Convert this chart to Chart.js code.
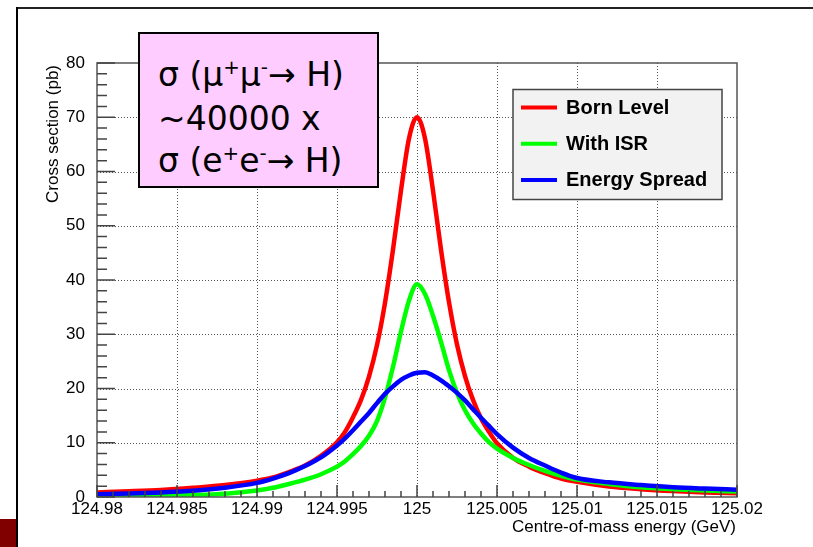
<!DOCTYPE html>
<html lang="en">

<head>
    <meta charset="UTF-8">
    <title>Higgs lineshape at a muon collider</title>
    <script src="https://cdn.jsdelivr.net/npm/chart.js"></script>
    <style>
        html, body { margin: 0; padding: 0; background: #fff; overflow: hidden; }
        .page { position: relative; width: 813px; height: 547px; }
        .chart_box { position: absolute; left: 0; top: 0; width: 813px; height: 547px; }
        .slide_top { position: absolute; left: 16px; top: 7px; width: 797px; height: 2px; background: #222; }
        .slide_left { position: absolute; left: 16px; top: 7px; width: 2px; height: 540px; background: #000; }
        .slide_mark { position: absolute; left: 0; top: 519px; width: 16px; height: 28px; background: #800000; }
        .note {
            position: absolute; left: 138px; top: 32px; width: 237px; height: 152px;
            border: 2px solid #000; background: #ffccff;
            font-family: 'DejaVu Sans', sans-serif; font-size: 33px; color: #000;
        }
        .note p { position: absolute; left: 18px; margin: 0; line-height: 1; white-space: nowrap; }
        .note sup { font-size: 60%; line-height: 0; }
    </style>
</head>

<body>
    <div class="page">
        <div class="slide_top"></div>
        <div class="slide_left"></div>
        <div class="slide_mark"></div>
        <div class="chart_box">
            <canvas id="lineshapeChart"></canvas>
        </div>
        <div class="note">
            <p style="top: 24px;">σ (μ<sup>+</sup>μ<sup>-</sup>→ H)</p>
            <p style="top: 68px;">~40000 x</p>
            <p style="top: 110px;">σ (e<sup>+</sup>e<sup>-</sup>→ H)</p>
        </div>
    </div>

    <script>
        // centre-of-mass energy (GeV)
        const energy = [124.980, 124.982, 124.984, 124.986, 124.988, 124.990, 124.991, 124.992, 124.993, 124.994,
            124.995, 124.9955, 124.996, 124.9965, 124.997, 124.9975, 124.998, 124.9985, 124.999, 124.9995, 125.000,
            125.0005, 125.001, 125.0015, 125.002, 125.0025, 125.003, 125.0035, 125.004, 125.0045, 125.005, 125.006,
            125.007, 125.008, 125.009, 125.010, 125.012, 125.014, 125.016, 125.018, 125.020];

        // cross section (pb)
        const bornLevel = [0.85, 1.05, 1.3, 1.7, 2.2, 3.0, 3.6, 4.6, 5.8, 7.6,
            10.1, 12.0, 14.7, 17.9, 22.2, 28.0, 35.8, 45.6, 56.5, 66.1, 70.0,
            66.1, 56.5, 45.6, 35.9, 28.1, 22.3, 17.9, 14.5, 12.0, 9.9, 7.2,
            5.6, 4.4, 3.4, 2.8, 1.95, 1.45, 1.1, 0.85, 0.7];
        const withISR = [0.15, 0.2, 0.25, 0.35, 0.6, 1.2, 1.7, 2.4, 3.2, 4.2,
            5.6, 6.6, 7.9, 9.4, 11.3, 14.0, 18.3, 24.0, 30.5, 36.2, 39.2,
            37.4, 33.4, 28.6, 23.4, 19.2, 16.0, 13.6, 11.7, 10.1, 8.9, 7.2,
            5.9, 4.8, 3.9, 3.2, 2.4, 1.8, 1.45, 1.2, 1.0];
        const energySpread = [0.5, 0.65, 0.85, 1.15, 1.7, 2.6, 3.4, 4.4, 5.7, 7.3,
            9.5, 10.8, 12.3, 13.9, 15.5, 17.3, 19.0, 20.4, 21.6, 22.4, 22.9,
            23.0, 22.4, 21.5, 20.4, 19.2, 17.8, 16.2, 14.6, 13.1, 11.6, 9.1,
            7.2, 5.8, 4.5, 3.5, 2.7, 2.2, 1.8, 1.55, 1.35];

        const seriesNames = ['Born Level', 'With ISR', 'Energy Spread'];
        const seriesColors = ['#ff0000', '#00ff00', '#0000ff'];

        const xTickValues = [124.98, 124.985, 124.99, 124.995, 125, 125.005, 125.01, 125.015, 125.02];
        const xTickLabels = ['124.98', '124.985', '124.99', '124.995', '125', '125.005', '125.01', '125.015', '125.02'];
        const yTickValues = [0, 10, 20, 30, 40, 50, 60, 70, 80];
        const yTickLabels = ['0', '10', '20', '30', '40', '50', '60', '70', '80'];

        const xTitle = 'Centre-of-mass energy (GeV)';
        const yTitle = 'Cross section (pb)';

        const toPoints = ys => energy.map((e, i) => ({ x: e, y: ys[i] }));
        const axisFont = '17px "Liberation Sans", Arial, sans-serif';

        // ROOT style frame: dotted grid, inward ticks, titles at the axis ends
        const rootFrame = {
            id: 'rootFrame',
            beforeDatasetsDraw(chart) {
                const { ctx, chartArea: a, scales: { x, y } } = chart;
                ctx.save();
                ctx.strokeStyle = '#555';
                ctx.lineWidth = 1;
                ctx.setLineDash([1, 2]);
                ctx.beginPath();
                xTickValues.slice(1, -1).forEach(v => {
                    const px = Math.round(x.getPixelForValue(v)) + 0.5;
                    ctx.moveTo(px, a.top);
                    ctx.lineTo(px, a.bottom);
                });
                yTickValues.slice(1, -1).forEach(v => {
                    const py = Math.round(y.getPixelForValue(v)) + 0.5;
                    ctx.moveTo(a.left, py);
                    ctx.lineTo(a.right, py);
                });
                ctx.stroke();
                ctx.restore();
            },
            afterDatasetsDraw(chart) {
                const { ctx, chartArea: a, scales: { x, y } } = chart;
                ctx.save();
                ctx.strokeStyle = '#555';
                ctx.lineWidth = 1.5;
                ctx.strokeRect(a.left, a.top, a.right - a.left, a.bottom - a.top);

                ctx.strokeStyle = '#444';
                ctx.beginPath();
                for (let i = 0; i <= 40; i++) {
                    const px = x.getPixelForValue(124.98 + i * 0.001);
                    const len = i % 5 === 0 ? 12 : 6;
                    ctx.moveTo(px, a.bottom);
                    ctx.lineTo(px, a.bottom - len);
                }
                for (let i = 0; i <= 40; i++) {
                    const py = y.getPixelForValue(i * 2);
                    const len = i % 5 === 0 ? 18 : 10;
                    ctx.moveTo(a.left, py);
                    ctx.lineTo(a.left + len, py);
                }
                ctx.stroke();

                ctx.fillStyle = '#000';
                ctx.font = axisFont;
                ctx.textAlign = 'right';
                ctx.textBaseline = 'alphabetic';
                ctx.fillText(xTitle, a.right - 1, 532);

                ctx.translate(58, a.top + 2);
                ctx.rotate(-Math.PI / 2);
                ctx.textAlign = 'right';
                ctx.fillText(yTitle, 0, 0);
                ctx.restore();
            },
            afterDraw(chart) {
                const { ctx } = chart;
                const bx = 513, by = 89.5, bw = 209, bh = 110;
                ctx.save();
                ctx.fillStyle = '#f2f2f2';
                ctx.fillRect(bx, by, bw, bh);
                ctx.strokeStyle = '#444';
                ctx.lineWidth = 1.5;
                ctx.strokeRect(bx, by, bw, bh);
                ctx.font = 'bold 20px "Liberation Sans", Arial, sans-serif';
                ctx.textAlign = 'left';
                ctx.textBaseline = 'middle';
                chart.data.datasets.forEach((ds, i) => {
                    const ry = by + 18 + i * 36.2;
                    ctx.strokeStyle = ds.borderColor;
                    ctx.lineWidth = 4;
                    ctx.beginPath();
                    ctx.moveTo(bx + 8, ry);
                    ctx.lineTo(bx + 44, ry);
                    ctx.stroke();
                    ctx.fillStyle = '#000';
                    ctx.fillText(ds.label, bx + 53, ry + 1);
                });
                ctx.restore();
            }
        };

        const ctx = document.getElementById('lineshapeChart').getContext('2d');

        new Chart(ctx, {
            type: 'line',
            data: {
                datasets: [bornLevel, withISR, energySpread].map((ys, i) => ({
                    label: seriesNames[i],
                    data: toPoints(ys),
                    borderColor: seriesColors[i],
                    backgroundColor: seriesColors[i],
                    borderWidth: 4.5,
                    pointRadius: 0,
                    fill: false,
                    cubicInterpolationMode: 'monotone',
                    order: 3 - i // blue drawn last, on top
                }))
            },
            options: {
                responsive: true,
                maintainAspectRatio: false,
                animation: false,
                layout: { padding: { left: 0, top: 63, right: 76, bottom: 0 } },
                plugins: {
                    legend: { display: false },
                    tooltip: { enabled: false }
                },
                scales: {
                    x: {
                        type: 'linear',
                        min: 124.98,
                        max: 125.02,
                        grid: { display: false },
                        border: { display: false },
                        afterBuildTicks: s => { s.ticks = xTickValues.map(v => ({ value: v })); },
                        afterFit: s => { s.height = 50; },
                        ticks: {
                            callback: (v, i) => xTickLabels[i],
                            color: '#000',
                            font: { family: '"Liberation Sans", Arial, sans-serif', size: 17 },
                            padding: -6,
                            maxRotation: 0,
                            autoSkip: false
                        }
                    },
                    y: {
                        min: 0,
                        max: 80,
                        grid: { display: false },
                        border: { display: false },
                        afterBuildTicks: s => { s.ticks = yTickValues.map(v => ({ value: v })); },
                        afterFit: s => { s.width = 97; },
                        ticks: {
                            callback: (v, i) => yTickLabels[i],
                            color: '#000',
                            font: { family: '"Liberation Sans", Arial, sans-serif', size: 17 },
                            padding: 4
                        }
                    }
                }
            },
            plugins: [rootFrame]
        });
    </script>
</body>

</html>
